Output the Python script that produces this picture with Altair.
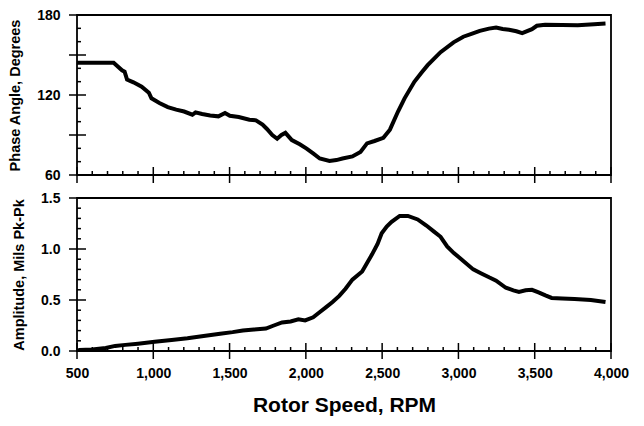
import altair as alt
import pandas as pd

# ---- data ----
phase_rpm = [500, 740, 795, 812, 828, 870, 924, 971, 988, 1040, 1095, 1150, 1202, 1256, 1277,
             1320, 1373, 1427, 1470, 1502, 1560, 1630, 1673, 1716, 1745, 1780, 1812, 1840, 1866,
             1908, 1960, 2005, 2050, 2091, 2155, 2200, 2240, 2305, 2358, 2401, 2450, 2508, 2551,
             2604, 2647, 2711, 2760, 2797, 2883, 2968, 3032, 3090, 3140, 3200, 3247, 3290, 3332,
             3380, 3418, 3482, 3514, 3568, 3680, 3782, 3889, 3964]
phase_deg = [144.2, 144.2, 138.5, 137.5, 131.6, 129.5, 126.2, 121.7, 117.5, 114.0, 110.9, 109.0,
             107.6, 105.2, 107.0, 105.8, 104.7, 104.0, 106.5, 104.4, 103.5, 101.5, 101.0, 97.8,
             94.5, 90.0, 87.2, 90.0, 91.6, 86.2, 83.0, 79.8, 76.0, 72.4, 70.6, 71.2, 72.4, 73.9,
             77.3, 83.7, 85.5, 87.9, 94.0, 107.6, 117.5, 129.9, 137.0, 142.2, 152.1, 159.5, 163.7,
             166.0, 168.1, 169.8, 170.6, 169.5, 168.9, 167.8, 166.4, 169.4, 171.9, 172.6, 172.5,
             172.4, 173.1, 173.6]

amp_rpm = [500, 517, 600, 688, 750, 817, 900, 1009, 1120, 1224, 1330, 1438, 1520, 1587, 1660,
           1738, 1790, 1844, 1900, 1951, 1995, 2048, 2090, 2133, 2175, 2219, 2260, 2305, 2369,
           2433, 2470, 2497, 2530, 2562, 2615, 2669, 2733, 2790, 2840, 2883, 2926, 2970, 3011,
           3097, 3150, 3204, 3247, 3311, 3360, 3397, 3440, 3482, 3525, 3570, 3611, 3680, 3761,
           3868, 3964]
amp_mils = [0.0, 0.01, 0.015, 0.03, 0.05, 0.06, 0.072, 0.09, 0.108, 0.125, 0.148, 0.17, 0.185,
            0.20, 0.21, 0.22, 0.25, 0.28, 0.29, 0.31, 0.30, 0.33, 0.38, 0.43, 0.48, 0.54, 0.61,
            0.70, 0.78, 0.945, 1.05, 1.154, 1.22, 1.266, 1.324, 1.324, 1.29, 1.23, 1.17, 1.12,
            1.025, 0.96, 0.91, 0.80, 0.76, 0.72, 0.69, 0.62, 0.595, 0.58, 0.595, 0.60, 0.575,
            0.545, 0.52, 0.515, 0.51, 0.50, 0.48]

x_major = [500, 1000, 1500, 2000, 2500, 3000, 3500, 4000]
x_minor = [v for v in range(600, 4000, 100) if v % 500 != 0]
phase_major = [60, 90, 120, 150, 180]
phase_minor = [v for v in range(70, 180, 10) if v % 30 != 0]
amp_major = [0.0, 0.5, 1.0, 1.5]
amp_minor = [0.1, 0.2, 0.3, 0.4, 0.6, 0.7, 0.8, 0.9, 1.1, 1.2, 1.3, 1.4]

W = 534
H_TOP = 160
H_BOT = 153
FONT = "Liberation Sans"
INK = "#000000"

xs = alt.Scale(domain=[500, 4000], nice=False, zero=False)


def panel(df, yfield, ydom, ymajor, yminor, ytitle, yfmt, H, show_x_labels):
    xaxis = alt.Axis(values=x_major, ticks=False, domain=False, grid=False,
                     labels=show_x_labels, format=",d",
                     title="Rotor Speed, RPM" if show_x_labels else None,
                     titleFontSize=21, titlePadding=14, labelPadding=15,
                     labelFlush=False)
    yaxis = alt.Axis(values=ymajor, ticks=False, domain=False, grid=False,
                     format=yfmt, title=ytitle, titleFontSize=14.5,
                     titlePadding=14, labelPadding=17)
    ys = alt.Scale(domain=ydom, nice=False, zero=False)
    line = alt.Chart(df).mark_line(color=INK, strokeWidth=4, clip=True).encode(
        x=alt.X("rpm:Q", scale=xs, axis=xaxis),
        y=alt.Y(f"{yfield}:Q", scale=ys, axis=yaxis),
    )
    xmin = alt.Chart(pd.DataFrame({"rpm": x_minor})).mark_rule(color=INK, strokeWidth=1.5).encode(
        x=alt.X("rpm:Q", scale=xs), y=alt.value(H - 4), y2=alt.value(H))
    xmaj = alt.Chart(pd.DataFrame({"rpm": x_major})).mark_rule(color=INK, strokeWidth=1.5).encode(
        x=alt.X("rpm:Q", scale=xs), y=alt.value(H - 8), y2=alt.value(H + 8))
    ymin = alt.Chart(pd.DataFrame({yfield: yminor})).mark_rule(color=INK, strokeWidth=1.5).encode(
        y=alt.Y(f"{yfield}:Q", scale=ys), x=alt.value(0), x2=alt.value(4))
    ymaj = alt.Chart(pd.DataFrame({yfield: ymajor})).mark_rule(color=INK, strokeWidth=1.5).encode(
        y=alt.Y(f"{yfield}:Q", scale=ys), x=alt.value(-8), x2=alt.value(9))
    return alt.layer(xmin, xmaj, ymin, ymaj, line).properties(width=W, height=H)


top = panel(pd.DataFrame({"rpm": phase_rpm, "phase": phase_deg}), "phase", [60, 180],
            phase_major, phase_minor, "Phase Angle, Degrees", "d", H_TOP, False)
bot = panel(pd.DataFrame({"rpm": amp_rpm, "amp": amp_mils}), "amp", [0, 1.5],
            amp_major, amp_minor, "Amplitude, Mils Pk-Pk", ".1f", H_BOT, True)

chart = alt.vconcat(top, bot, spacing=5).properties(
    padding={"left": -2, "top": -1, "right": 0, "bottom": 0},
    background="white",
).configure_view(stroke=INK, strokeWidth=1.8).configure_axis(
    labelFont=FONT, labelFontSize=14, labelFontWeight="bold", labelColor=INK,
    titleFont=FONT, titleFontWeight="bold", titleColor=INK,
)

chart.save("out.html", embed_options={"renderer": "svg", "actions": False})
